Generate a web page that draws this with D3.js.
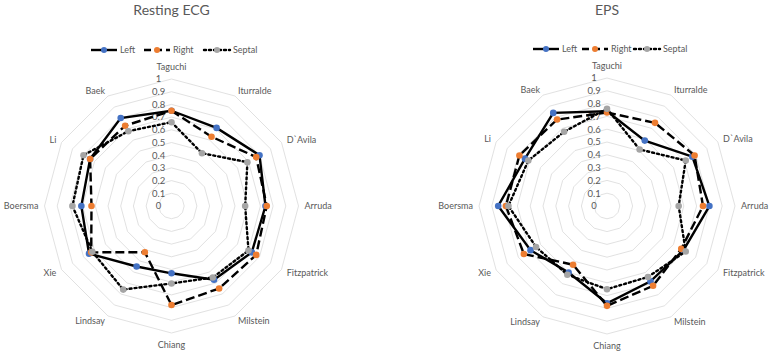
<!DOCTYPE html>
<html>
<head>
<meta charset="utf-8">
<script src="https://cdn.jsdelivr.net/npm/d3@7"></script>
<style>
  body { margin: 0; background: #fff; }
  text { font-family: Lato, "Open Sans", sans-serif; fill: #595959; }
</style>
</head>
<body>
<script>
var w = 776;
var h = 355;

// categories, clockwise from the top
var authors = ["Taguchi", "Iturralde", "D`Avila", "Arruda", "Fitzpatrick", "Milstein",
               "Chiang", "Lindsay", "Xie", "Boersma", "Li", "Baek"];
var ticks = [0, 0.1, 0.2, 0.3, 0.4, 0.5, 0.6, 0.7, 0.8, 0.9, 1];
var seriesNames = ["Left", "Right", "Septal"];

// Resting ECG
var restLeft   = [0.75, 0.71, 0.80, 0.74, 0.73, 0.67, 0.53, 0.55, 0.75, 0.71, 0.74, 0.80];
var restRight  = [0.75, 0.63, 0.77, 0.75, 0.77, 0.75, 0.78, 0.42, 0.73, 0.63, 0.74, 0.73];
var restSeptal = [0.66, 0.48, 0.69, 0.58, 0.70, 0.65, 0.61, 0.76, 0.72, 0.78, 0.80, 0.68];

// EPS
var epsLeft   = [0.74, 0.59, 0.77, 0.80, 0.69, 0.68, 0.76, 0.60, 0.69, 0.85, 0.74, 0.84];
var epsRight  = [0.73, 0.75, 0.79, 0.75, 0.67, 0.72, 0.78, 0.53, 0.75, 0.79, 0.79, 0.78];
var epsSeptal = [0.76, 0.51, 0.71, 0.56, 0.71, 0.64, 0.65, 0.62, 0.64, 0.77, 0.71, 0.67];

var markerColor = {Left: "#4472C4", Right: "#ED7D31", Septal: "#A5A5A5"};
var dashes = {Left: null, Right: "9,4", Septal: "2,3"};

var svg = d3.select("body").append("svg")
    .attr("width", w)
    .attr("height", h);
svg.append("rect").attr("width", w).attr("height", h).attr("fill", "#fff");

function radar(cfg) {
    var g = svg.append("g").attr("transform", "translate(" + cfg.cx + "," + cfg.cy + ")");
    var r = d3.scaleLinear().domain([0, 1]).range([0, cfg.R]);
    var angle = d3.scalePoint().domain(authors).range([0, 2 * Math.PI * 11 / 12]);

    function px(name, v) { return r(v) * Math.sin(angle(name)); }
    function py(name, v) { return -r(v) * Math.cos(angle(name)); }

    // grid polygons
    g.selectAll("polygon.grid")
        .data(ticks.slice(1))
        .enter().append("polygon")
        .attr("class", "grid")
        .attr("points", function(t) {
            return authors.map(function(a) { return px(a, t) + "," + py(a, t); }).join(" ");
        })
        .attr("fill", "none")
        .attr("stroke", "#d9d9d9")
        .attr("stroke-width", 0.8);

    // tick labels
    g.selectAll("text.tick")
        .data(ticks)
        .enter().append("text")
        .attr("class", "tick")
        .attr("x", -13)
        .attr("y", function(t) { return -r(t); })
        .attr("dy", "0.35em")
        .attr("text-anchor", "middle")
        .style("font-size", "9.5px")
        .text(function(t) { return d3.format("~g")(t); });

    // category labels
    g.selectAll("text.cat")
        .data(authors)
        .enter().append("text")
        .attr("class", "cat")
        .attr("x", function(a) { return (cfg.R + 6) * Math.sin(angle(a)); })
        .attr("y", function(a) {
            var c = Math.cos(angle(a));
            var y = -(cfg.R + 6) * c;
            if (Math.abs(c) > 0.99) y -= c * 6;
            return y;
        })
        .attr("dy", "0.35em")
        .attr("text-anchor", function(a) {
            var s = Math.sin(angle(a));
            return s > 0.01 ? "start" : (s < -0.01 ? "end" : "middle");
        })
        .style("font-size", "9px")
        .text(function(a) { return a; });

    var line = d3.line()
        .x(function(d) { return px(d.a, d.v); })
        .y(function(d) { return py(d.a, d.v); })
        .curve(d3.curveLinearClosed);

    cfg.series.forEach(function(vals, i) {
        var name = seriesNames[i];
        var pts = authors.map(function(a, j) { return {a: a, v: vals[j]}; });
        var sg = g.append("g");
        sg.append("path")
            .attr("d", line(pts))
            .attr("fill", "none")
            .attr("stroke", "#000")
            .attr("stroke-width", 2.4)
            .attr("stroke-dasharray", dashes[name])
            .attr("stroke-linecap", name == "Septal" ? "round" : "butt");
        sg.selectAll("circle")
            .data(pts)
            .enter().append("circle")
            .attr("cx", function(d) { return px(d.a, d.v); })
            .attr("cy", function(d) { return py(d.a, d.v); })
            .attr("r", 3.3)
            .attr("fill", markerColor[name]);
    });

    // title
    svg.append("text")
        .attr("x", cfg.cx)
        .attr("y", 10)
        .attr("dy", "0.35em")
        .attr("text-anchor", "middle")
        .style("font-size", "14px")
        .text(cfg.title);

    // legend
    var lg = svg.append("g").attr("transform", "translate(0," + cfg.legendY + ")");
    cfg.legendX.forEach(function(x0, i) {
        var name = seriesNames[i];
        var it = lg.append("g").attr("transform", "translate(" + x0 + ",0)");
        it.append("line")
            .attr("x1", 0).attr("x2", 26)
            .attr("stroke", "#000")
            .attr("stroke-width", 2.4)
            .attr("stroke-dasharray", name == "Right" ? "7,4" : dashes[name])
            .attr("stroke-linecap", name == "Septal" ? "round" : "butt");
        it.append("circle").attr("cx", 13).attr("r", 3).attr("fill", markerColor[name]);
        it.append("text")
            .attr("x", 29)
            .attr("dy", "0.35em")
            .style("font-size", "9px")
            .text(name);
    });
}

radar({title: "Resting ECG", cx: 171.5, cy: 206, R: 127,
       series: [restLeft, restRight, restSeptal],
       legendY: 50, legendX: [91, 144, 204]});
radar({title: "EPS", cx: 607, cy: 206, R: 128,
       series: [epsLeft, epsRight, epsSeptal],
       legendY: 49, legendX: [533, 582, 634]});
</script>
</body>
</html>
